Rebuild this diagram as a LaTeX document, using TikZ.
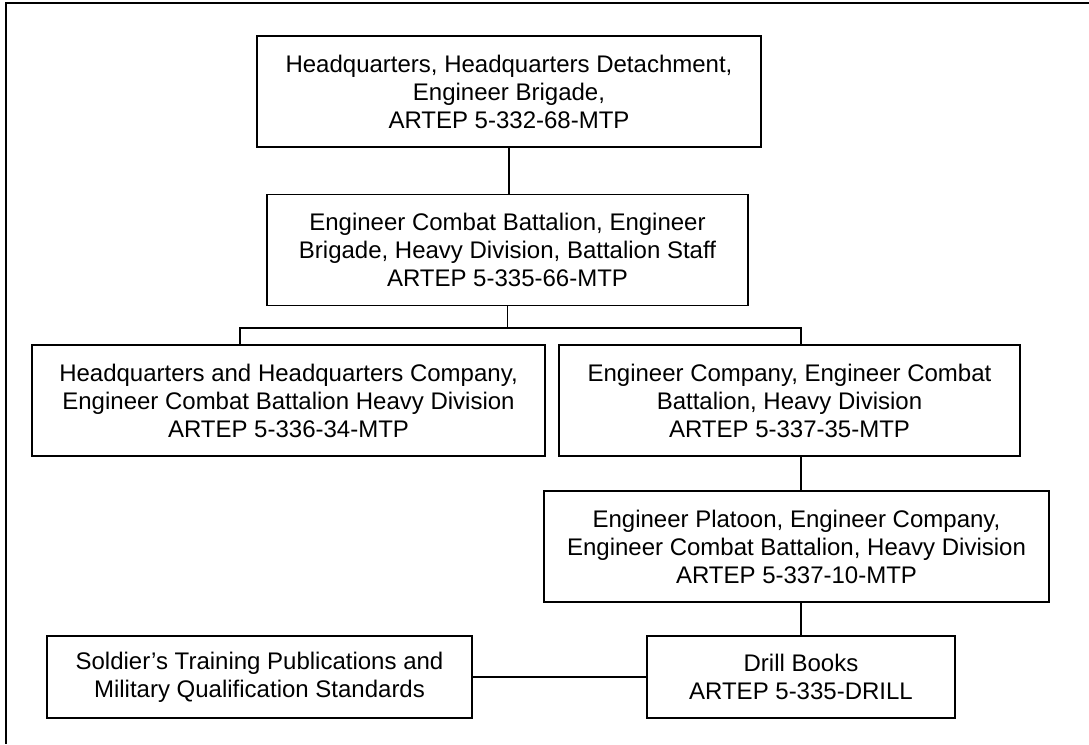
\documentclass[tikz,border=0pt]{standalone}
\usepackage{fontspec}
\setmainfont{Liberation Sans}

\begin{document}
\begin{tikzpicture}[x=0.75pt, y=-0.75pt,
		unitbox/.style={draw, line width=1pt, fill=white, align=center, inner sep=0pt, font=\fontsize{18}{21}\selectfont},
		tallbox/.style={unitbox, minimum height=83.25pt},
		flatbox/.style={unitbox, minimum height=61.5pt},
		link/.style={line width=1pt}]
	\useasboundingbox (0,0) rectangle (1089,744);
	\draw[line width=1.7pt] (1089,3) -- (6,3) -- (6,744);
	\node[tallbox, minimum width=378pt] (hhd) at (509,91.5) {Headquarters, Headquarters Detachment,\\Engineer Brigade,\\ARTEP 5-332-68-MTP};
	\node[tallbox, minimum width=360.75pt] (bnstaff) at (507.5,250) {Engineer Combat Battalion, Engineer\\Brigade, Heavy Division, Battalion Staff\\ARTEP 5-335-66-MTP};
	\node[tallbox, minimum width=384.75pt] (hhc) at (288.5,400.5) {Headquarters and Headquarters Company,\\Engineer Combat Battalion Heavy Division\\ARTEP 5-336-34-MTP};
	\node[tallbox, minimum width=345.75pt] (engco) at (789.5,400.5) {Engineer Company, Engineer Combat\\Battalion, Heavy Division\\ARTEP 5-337-35-MTP};
	\node[tallbox, minimum width=378.75pt] (engplt) at (796.5,546.5) {Engineer Platoon, Engineer Company,\\Engineer Combat Battalion, Heavy Division\\ARTEP 5-337-10-MTP};
	\node[flatbox, minimum width=231pt] (drill) at (801,677) {Drill Books\\ARTEP 5-335-DRILL};
	\node[flatbox, minimum width=318.75pt] (stp) at (259.5,677) {Soldier’s Training Publications and\\Military Qualification Standards};
	\coordinate (forkL) at (240,328);
	\coordinate (forkR) at (801,328);
	\draw[link] (hhd.south) -- (hhd.south |- bnstaff.north);
	\draw[link] (bnstaff.south) -- (bnstaff.south |- forkL);
	\draw[link] (forkL |- hhc.north) -- (forkL) -- (forkR) -- (forkR |- engco.north);
	\draw[link] (engco.south -| drill.north) -- (engplt.north -| drill.north);
	\draw[link] (engplt.south -| drill.north) -- (drill.north);
	\draw[link] (stp.east) -- (drill.west);
\end{tikzpicture}
\end{document}
